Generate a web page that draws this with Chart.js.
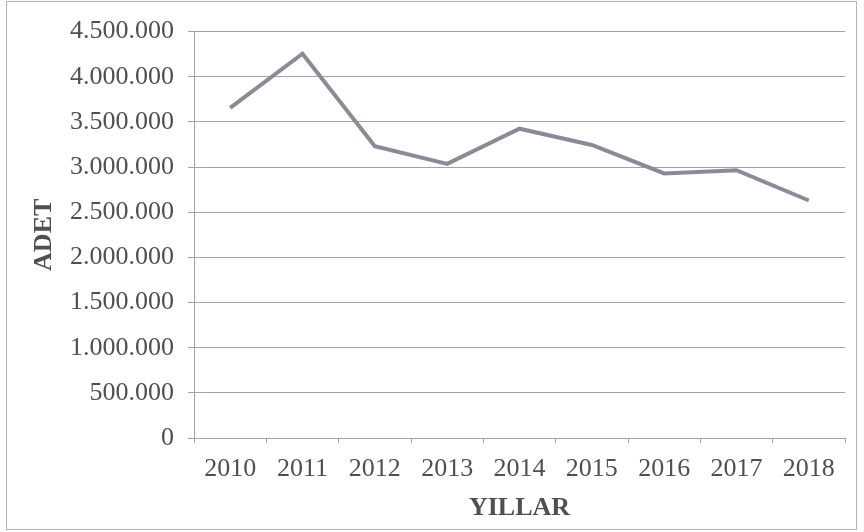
<!DOCTYPE html>
<html>
<head>
<meta charset="utf-8">
<script src="https://cdn.jsdelivr.net/npm/chart.js@4.4.0/dist/chart.umd.min.js"></script>
<style>
  html, body { margin: 0; padding: 0; background: #fff; }
  #wrap {
    position: absolute; left: 6px; top: 1px;
    width: 851px; height: 529px;
    border: 1px solid #b4b4b4;
    box-sizing: border-box;
  }
  canvas { position: absolute; left: 0; top: 0; }
</style>
</head>
<body>
<div id="wrap"><canvas id="chart" width="849" height="527"></canvas></div>
<script>
const years = ['2010', '2011', '2012', '2013', '2014', '2015', '2016', '2017', '2018'];
const adet = [3655000, 4255000, 3230000, 3035000, 3425000, 3245000, 2930000, 2965000, 2630000];
const yMin = 0;
const yMax = 4500000;
const yStep = 500000;

// thousands with dots: 4500000 -> 4.500.000
function dotted(v) {
    return String(Math.round(v)).replace(/\B(?=(\d{3})+(?!\d))/g, '.');
}

const serif = "'Liberation Serif', 'Times New Roman', serif";
const textColor = '#505050';
const gridColor = '#a2a2aa';

const ctx = document.getElementById('chart').getContext('2d');
const myChart = new Chart(ctx, {
    type: 'line',
    data: {
        labels: years,
        datasets: [{
            label: 'ADET',
            data: adet,
            fill: false,
            borderColor: '#8b8b98',
            borderWidth: 4,
            pointRadius: 0,
            tension: 0
        }]
    },
    options: {
        responsive: false,
        animation: false,
        layout: { padding: { top: 10, right: 11, bottom: 5, left: 22 } },
        plugins: {
            legend: { display: false },
            tooltip: { enabled: false }
        },
        scales: {
            x: {
                offset: true,
                grid: {
                    display: true,
                    drawOnChartArea: false,
                    offset: true,
                    color: gridColor,
                    tickLength: 5
                },
                border: { color: gridColor },
                ticks: {
                    color: textColor,
                    padding: 11,
                    maxRotation: 0,
                    font: { family: serif, size: 26 }
                },
                title: {
                    display: true,
                    text: 'YILLAR',
                    color: textColor,
                    padding: { top: 0, bottom: 0 },
                    font: { family: serif, size: 26, weight: 'bold' }
                },
                afterFit: function(scale) { scale.height = 86; }
            },
            y: {
                min: yMin,
                max: yMax,
                grid: {
                    color: gridColor,
                    tickLength: 6
                },
                border: { color: gridColor },
                ticks: {
                    stepSize: yStep,
                    color: textColor,
                    padding: 14,
                    font: { family: serif, size: 26 },
                    callback: function(v) { return dotted(v); }
                },
                title: {
                    display: true,
                    text: 'ADET',
                    color: textColor,
                    padding: { top: 0, bottom: 4 },
                    font: { family: serif, size: 26, weight: 'bold' }
                },
                afterFit: function(scale) { scale.width = 165; }
            }
        }
    }
});
</script>
</body>
</html>
